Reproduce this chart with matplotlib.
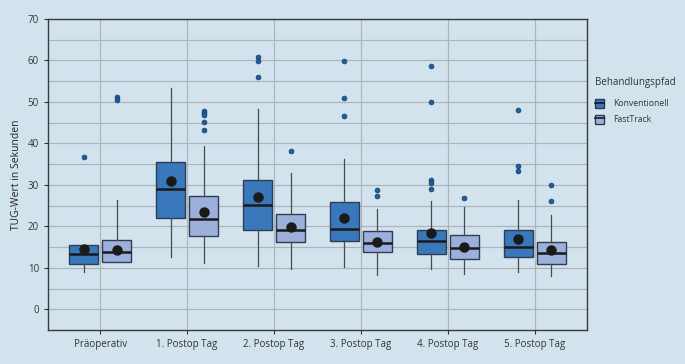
import numpy as np
import matplotlib.pyplot as plt
from matplotlib.patches import Patch
from matplotlib.lines import Line2D

categories = ['Präoperativ', '1. Postop Tag', '2. Postop Tag', '3. Postop Tag', '4. Postop Tag', '5. Postop Tag']
groups = ['Konventionell', 'FastTrack']

# box statistics: whislo, q1, median, q3, whishi, mean, outliers
konv_lo = [9.0, 12.5, 10.5, 10.1, 9.6, 9.0]
konv_q1 = [10.8, 22.0, 19.0, 16.4, 13.3, 12.6]
konv_med = [13.2, 29.0, 25.1, 19.3, 16.4, 15.1]
konv_q3 = [15.6, 35.6, 31.2, 25.8, 19.2, 19.0]
konv_hi = [15.6, 53.3, 48.3, 36.2, 26.0, 26.3]
konv_mean = [14.5, 30.8, 27.0, 22.0, 18.4, 16.9]
konv_out = [[36.6], [], [60.9, 59.9, 56.0], [59.9, 51.0, 46.6],
            [58.7, 50.0, 31.1, 30.4, 29.1], [48.1, 34.6, 33.3]]

fast_lo = [11.3, 11.1, 9.6, 8.3, 8.5, 8.0]
fast_q1 = [11.3, 17.6, 16.1, 13.7, 12.1, 10.8]
fast_med = [13.7, 21.8, 19.0, 15.9, 14.8, 13.5]
fast_q3 = [16.7, 27.4, 22.9, 18.8, 17.8, 16.1]
fast_hi = [26.3, 39.4, 32.9, 24.1, 24.7, 22.7]
fast_mean = [14.3, 23.5, 19.9, 16.2, 15.0, 14.3]
fast_out = [[51.1, 50.5], [47.8, 47.3, 46.8, 45.2, 43.2], [38.1], [28.7, 27.4],
            [26.8], [29.9, 26.1]]

plt.rcParams['font.family'] = ['Open Sans', 'DejaVu Sans']

bg = '#d3e3ee'
colors = ['#3878bb', '#9db0dc']

fig = plt.figure(figsize=(6.85, 3.64), dpi=100, facecolor=bg)
ax = fig.add_axes([0.070, 0.0934, 0.787, 0.855], facecolor=bg)

def stats(lo, q1, med, q3, hi, mean, out):
    return [dict(whislo=lo[i], q1=q1[i], med=med[i], q3=q3[i], whishi=hi[i],
                 mean=mean[i], fliers=out[i]) for i in range(len(lo))]

x = np.arange(len(categories))
sets = [(konv_lo, konv_q1, konv_med, konv_q3, konv_hi, konv_mean, konv_out),
        (fast_lo, fast_q1, fast_med, fast_q3, fast_hi, fast_mean, fast_out)]
for k, (data, offset) in enumerate(zip(sets, [-0.19, 0.19])):
    ax.bxp(stats(*data), positions=x + offset, widths=0.34, patch_artist=True,
           showmeans=True, showcaps=False,
           boxprops=dict(facecolor=colors[k], edgecolor='#2c3e55', linewidth=1.0),
           medianprops=dict(color='#1a1a1a', linewidth=1.8),
           whiskerprops=dict(color='#4a4a4a', linewidth=0.9),
           meanprops=dict(marker='o', markerfacecolor='#1a1a1a', markeredgecolor='#1a1a1a', markersize=6.5),
           flierprops=dict(marker='o', markerfacecolor='#1f5d9c', markeredgecolor='#163d66',
                           markersize=3.5, markeredgewidth=0.5),
           zorder=3)

ax.set_xlim(-0.6, 5.6)
ax.set_ylim(-5, 70)
ax.set_xticks(x)
ax.set_xticklabels(categories)
ax.set_yticks(np.arange(0, 71, 10))
ax.set_yticks(np.arange(5, 70, 10), minor=True)
ax.grid(True, which='both', color='#aeb4bb', linewidth=0.9, zorder=0)
ax.set_axisbelow(True)
ax.tick_params(axis='both', labelsize=7, colors='#333333', length=3, width=0.8)
ax.tick_params(axis='y', which='minor', length=0)
for s in ax.spines.values():
    s.set_color('#3a3a3a')
    s.set_linewidth(1.0)
ax.set_ylabel('TUG-Wert in Sekunden', fontsize=7.5, color='#222222', labelpad=4)

handles = [(Patch(facecolor=c, edgecolor='#2c3e55'), Line2D([], [], color='#1a1a1a', linewidth=1.2))
           for c in colors]
leg = fig.legend(handles, groups, title='Behandlungspfad', loc='upper left',
                 bbox_to_anchor=(0.857, 0.81), frameon=False, fontsize=6.2,
                 title_fontsize=7, handlelength=1.1, handleheight=1.2,
                 labelspacing=0.75, handletextpad=1.0, alignment='left')
leg._legend_box.sep = 8
plt.setp(leg.get_texts(), color='#333333')
leg.get_title().set_color('#333333')

fig.savefig('out.png', dpi=100, facecolor=bg)
